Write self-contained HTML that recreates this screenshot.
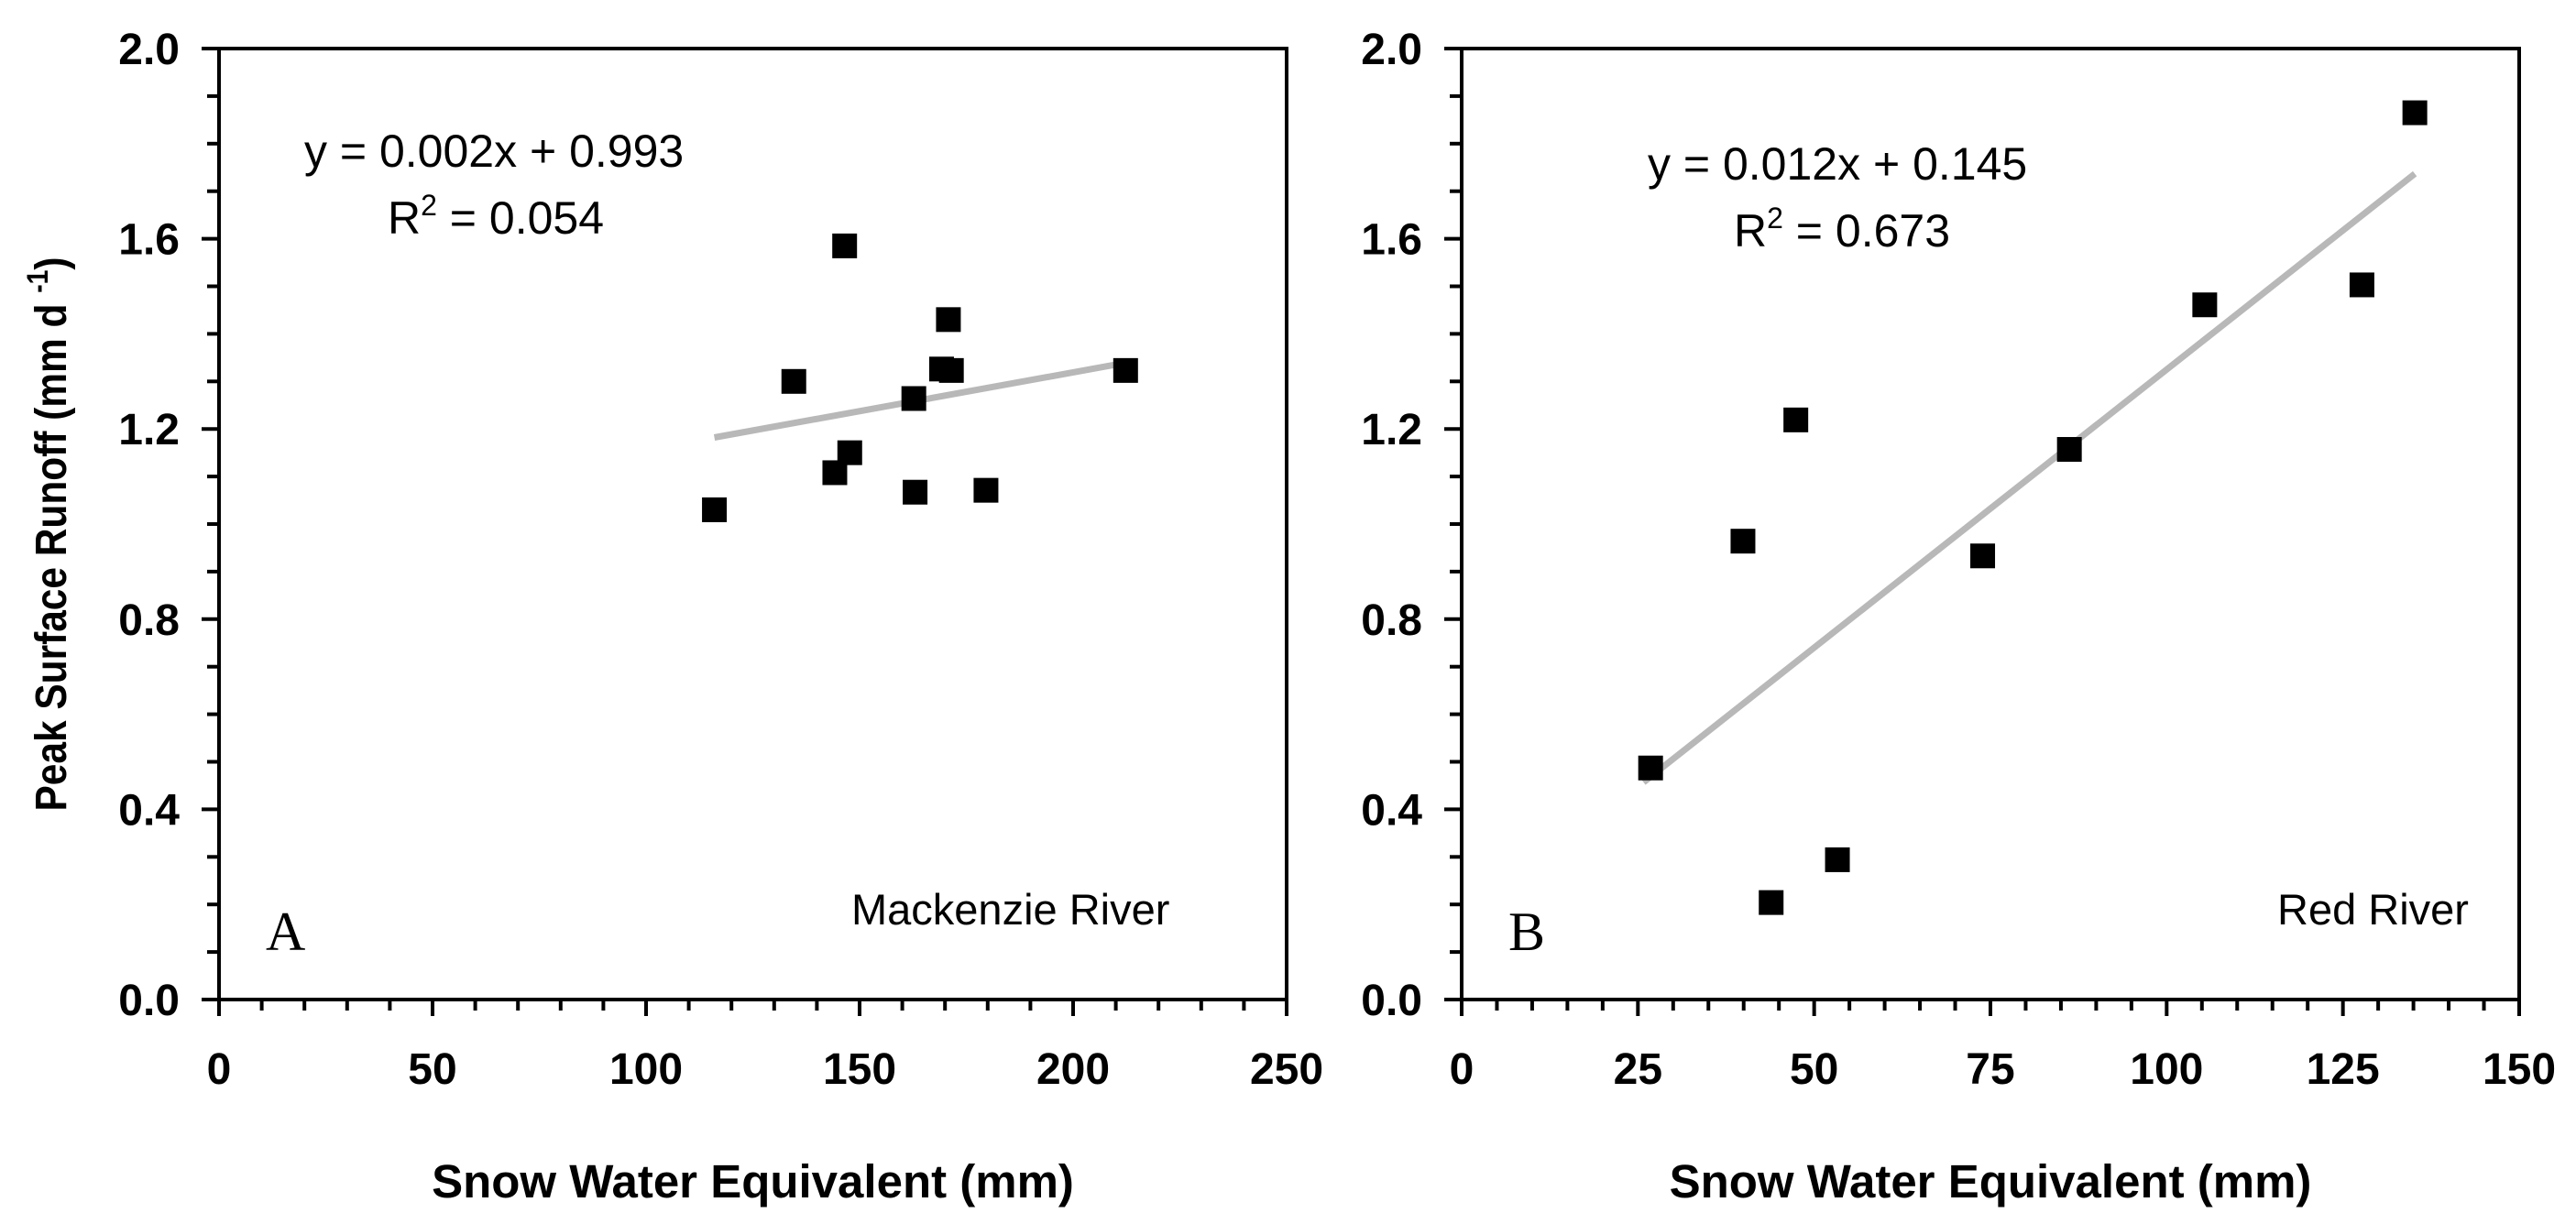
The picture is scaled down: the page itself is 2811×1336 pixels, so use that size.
<!DOCTYPE html>
<html><head><meta charset="utf-8"><style>
html,body{margin:0;padding:0;background:#fff;}
svg{display:block;}
</style></head><body>
<svg id="fig" xmlns="http://www.w3.org/2000/svg" width="2811" height="1336" viewBox="0 0 2811 1336" font-family="Liberation Sans, Arial, sans-serif"></svg>
<script>
// Panel A data (Mackenzie River)
const aSWE = [116, 134.6, 146.5, 144.2, 147.7, 162.7, 163, 169.2, 170.8, 171.5, 179.6, 212.3];
const aRunoff = [1.03, 1.30, 1.585, 1.108, 1.15, 1.264, 1.067, 1.326, 1.43, 1.323, 1.071, 1.323];
const aTrend = [0.00163, 0.993];
const aTrendRange = [116, 212.5];
const aXTicks = ["0","50","100","150","200","250"];
// Panel B data (Red River)
const bSWE = [26.8, 39.9, 43.9, 47.4, 53.3, 73.9, 86.2, 105.4, 127.7, 135.2];
const bRunoff = [0.487, 0.964, 0.204, 1.219, 0.294, 0.933, 1.157, 1.461, 1.503, 1.865];
const bTrend = [0.0117, 0.155];
const bTrendRange = [25.8, 135.2];
const bXTicks = ["0","25","50","75","100","125","150"];
const yTicks = ["0.0","0.4","0.8","1.2","1.6","2.0"];

const NS = "http://www.w3.org/2000/svg";
const svg = document.getElementById('fig');
function mk(tag, attrs, parent, text){
  const e = document.createElementNS(NS, tag);
  for (const k in attrs) e.setAttribute(k, attrs[k]);
  if (text !== undefined) e.textContent = text;
  (parent || svg).appendChild(e);
  return e;
}

function panel(p){
  const g = mk('g', {});
  
  
  const L = p.left, R = p.right, T = 53, B = 1091;
  const xs = v => L + (v / p.xmax) * (R - L);
  const ys = v => B - (v / 2.0) * (B - T);
  const fr = mk('rect', {x:L, y:T, width:R-L, height:B-T, fill:'none', stroke:'#000', 'stroke-width':4}, g);
  
  
  for (let i = 0; i <= 20; i++){
    const v = i * 0.1, y = ys(v), major = (i % 4 === 0);
    const t = mk('line', {x1:L - (major ? 19 : 13), x2:L, y1:y, y2:y, stroke:'#000', 'stroke-width':4}, g);
    
    
  }
  yTicks.forEach(lab => {
    const v = parseFloat(lab);
    const t = mk('text', {x:L - 43, y:ys(v) + 17, 'text-anchor':'end', 'font-size':48, 'font-weight':'bold'}, g, lab);
    
    
  });
  const nMinor = p.xmax / p.minor;
  for (let i = 0; i <= nMinor; i++){
    const v = i * p.minor, x = xs(v), major = (v % p.major === 0);
    const t = mk('line', {x1:x, x2:x, y1:B, y2:B + (major ? 18 : 12), stroke:'#000', 'stroke-width':4}, g);
    
    
  }
  p.xTicks.forEach(lab => {
    const v = parseFloat(lab);
    const t = mk('text', {x:xs(v), y:1183, 'text-anchor':'middle', 'font-size':48, 'font-weight':'bold'}, g, lab);
    
    
  });
  const xt = mk('text', {x:(L + R) / 2, y:1307, 'text-anchor':'middle', 'font-size':51, 'font-weight':'bold'}, g, 'Snow Water Equivalent (mm)');
  
  
  const x1 = p.trendRange[0], x2 = p.trendRange[1];
  const tl = mk('line', {x1:xs(x1), y1:ys(p.trend[0]*x1 + p.trend[1]), x2:xs(x2), y2:ys(p.trend[0]*x2 + p.trend[1]), stroke:'#b8b8b8', 'stroke-width':7}, g);
  
  
  p.xv.forEach((xv, i) => {
    const s = 27;
    const pt = mk('rect', {x:xs(xv) - s/2, y:ys(p.yv[i]) - s/2, width:s, height:s, fill:'#000'}, g);
    
    
  });
  const eq = mk('text', {x:p.eqX, y:p.eqY, 'font-size':50}, g, p.eq);
  
  
  const r2 = mk('text', {x:p.r2X, y:p.eqY + 73, 'font-size':50}, g);
  
  
  mk('tspan', {}, r2, 'R');
  mk('tspan', {dy:-20, 'font-size':32}, r2, '2');
  mk('tspan', {dy:20}, r2, ' = ' + p.r2);
  const rl = mk('text', {x:p.riverX, y:1009, 'font-size':47}, g, p.river);
  
  
  const pl = mk('text', {x:L + 51, y:1037, 'font-size':60, 'font-family':'Liberation Serif, serif'}, g, p.letter);
  
  
}

panel({name:'panel-a-mackenzie', left:239, right:1404, xmax:250, minor:10, major:50, xTicks:aXTicks,
  xv:aSWE, yv:aRunoff, trend:aTrend, trendRange:aTrendRange,
  eq:'y = 0.002x + 0.993', r2:'0.054', eqX:332, eqY:182, r2X:423, river:'Mackenzie River', riverX:929, letter:'A'});
panel({name:'panel-b-red', left:1595, right:2749, xmax:150, minor:5, major:25, xTicks:bXTicks,
  xv:bSWE, yv:bRunoff, trend:bTrend, trendRange:bTrendRange,
  eq:'y = 0.012x + 0.145', r2:'0.673', eqX:1798, eqY:196, r2X:1892, river:'Red River', riverX:2485, letter:'B'});

const yt = mk('text', {x:0, y:0, 'text-anchor':'middle', 'font-size':48, 'font-weight':'bold', textLength:605, lengthAdjust:'spacingAndGlyphs', transform:'translate(72,583) rotate(-90)'});


mk('tspan', {}, yt, 'Peak Surface Runoff  (mm d ');
mk('tspan', {dy:-20, 'font-size':32}, yt, '-1');
mk('tspan', {dy:20}, yt, ')');
</script>
</body></html>
